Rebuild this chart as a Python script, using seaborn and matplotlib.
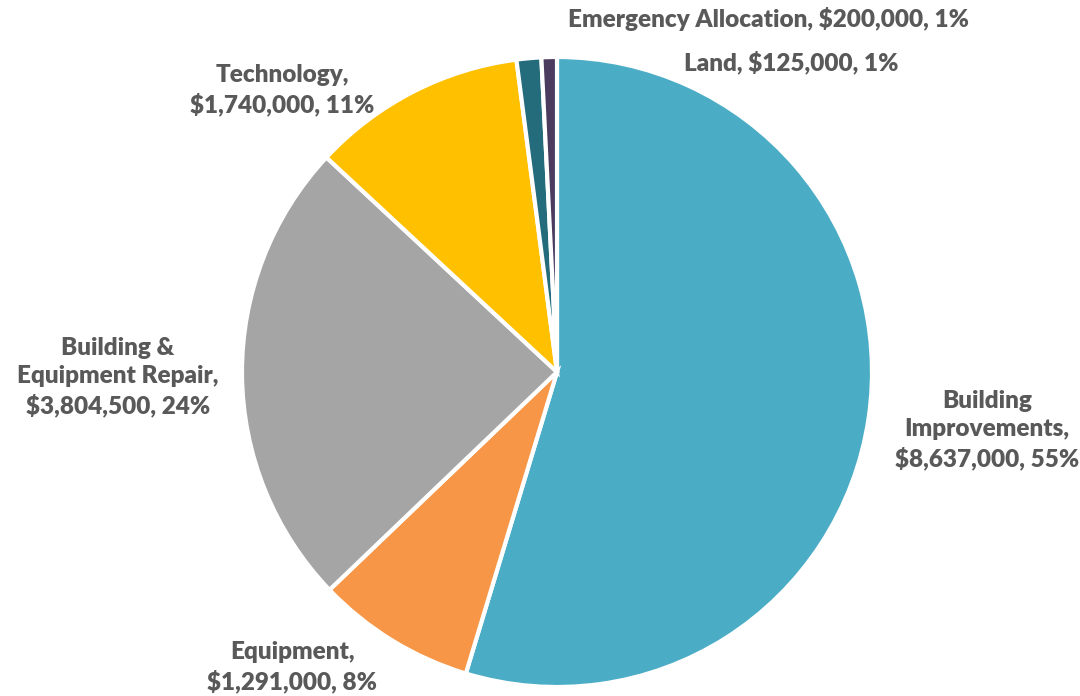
import matplotlib
matplotlib.use("Agg")
import matplotlib.pyplot as plt
import seaborn as sns

sns.set_theme(style="white")
plt.rcParams['font.family'] = ['Lato', 'DejaVu Sans']

categories = ["Building\nImprovements", "Equipment", "Building &\nEquipment Repair",
              "Technology", "Emergency Allocation", "Land"]
values = [8637000, 1291000, 3804500, 1740000, 200000, 125000]
percent_labels = ["55%", "8%", "24%", "11%", "1%", "1%"]
colors = ["#4BACC6", "#F79646", "#A5A5A5", "#FFC000", "#246B7C", "#4B3B5E"]

# label positions (axes data units), layout only
label_pos = [(1.365, -0.184), (-0.840, -0.937), (-1.394, -0.016),
             (-0.873, 0.895), (0.673, 1.121), (0.743, 0.984)]

fig = plt.figure(figsize=(10.8, 6.96), dpi=100)
ax = fig.add_axes([(557 - 315) / 1080, (324 - 315) / 696, 630 / 1080, 630 / 696])
ax.pie(values, colors=colors, startangle=90, counterclock=False,
       wedgeprops=dict(edgecolor="white", linewidth=3), radius=1.0)
ax.set_xlim(-1, 1)
ax.set_ylim(-1, 1)
ax.set_aspect("equal")
ax.axis("off")

for cat, v, p, (x, y) in zip(categories, values, percent_labels, label_pos):
    if cat in ("Technology", "Equipment") or "\n" in cat:
        txt = f"{cat},\n${v:,}, {p}"
    else:
        txt = f"{cat}, ${v:,}, {p}"
    ax.text(x, y, txt, ha="center", va="center", fontsize=17.5, fontweight="heavy",
            color="#595959", linespacing=1.33, clip_on=False)

fig.savefig("out.png", dpi=100)
